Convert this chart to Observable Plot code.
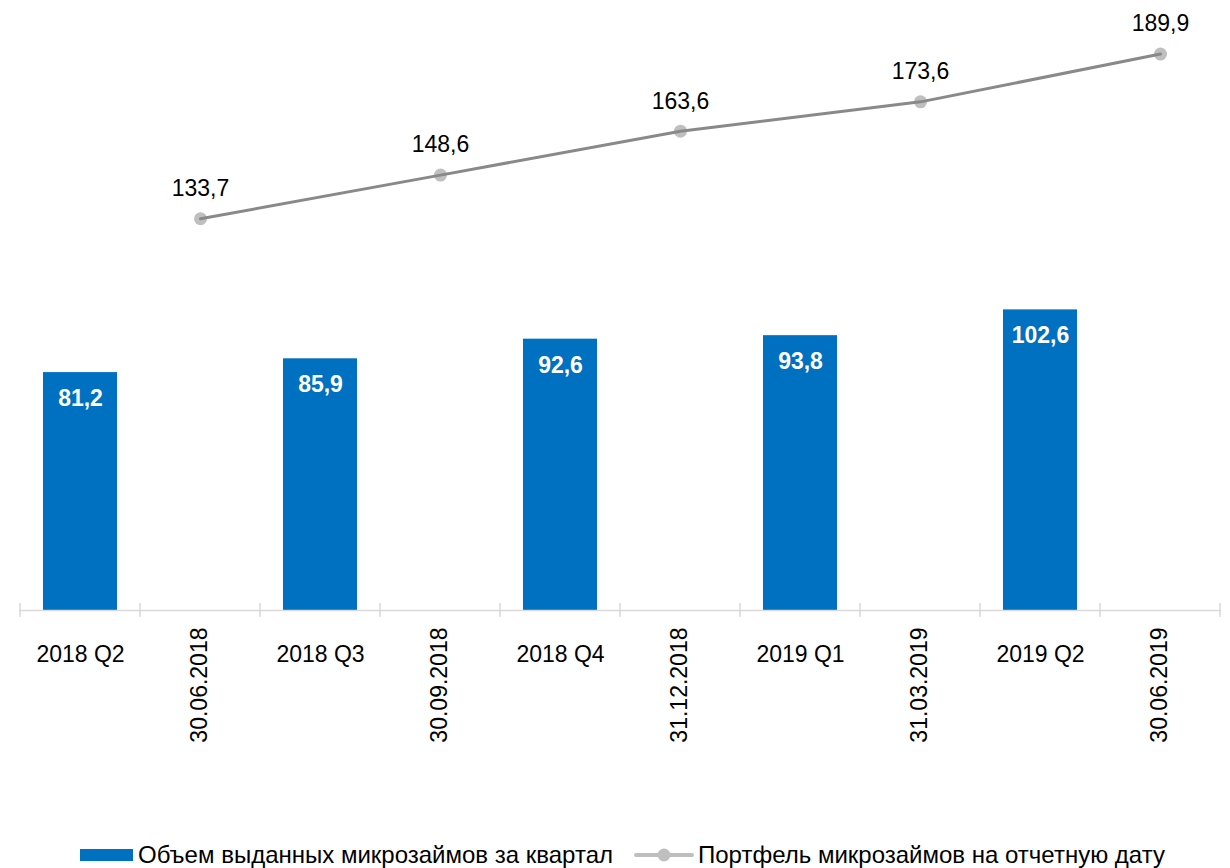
<!DOCTYPE html>
<html>
<head>
<meta charset="utf-8">
<script src="https://cdn.jsdelivr.net/npm/d3@7"></script>
<script src="https://cdn.jsdelivr.net/npm/@observablehq/plot@0.6"></script>
<style>
  html, body { margin: 0; background: #fff; font-family: "Liberation Sans", Arial, sans-serif; }
  #chart svg { display: block; }
  #legend { display: flex; align-items: center; height: 26px; line-height: 26px; margin-top: 17px; padding-left: 80px; font-size: 24px; color: #000; white-space: nowrap; }
  .sw-bar { width: 53px; height: 12px; background: #0070c0; margin-right: 5px; }
  .item2 { margin-left: 21px; display: flex; align-items: center; }
</style>
</head>
<body>
<div id="chart"></div>
<div id="legend">
  <div class="sw-bar"></div><span>Объем выданных микрозаймов за квартал</span>
  <div class="item2">
    <svg width="60" height="16" style="margin-right:4px"><line x1="2" y1="8" x2="58" y2="8" stroke="#bfbfbf" stroke-width="4" stroke-linecap="round"/><circle cx="30" cy="8" r="6.5" fill="#bfbfbf"/></svg>
    <span>Портфель микрозаймов на отчетную дату</span>
  </div>
</div>
<script>
// Categories on the x axis (quarters interleaved with reporting dates)
const categories = ["2018 Q2", "30.06.2018", "2018 Q3", "30.09.2018", "2018 Q4", "31.12.2018", "2019 Q1", "31.03.2019", "2019 Q2", "30.06.2019"];
// Bars: issued microloans per quarter
const quarters = ["2018 Q2", "2018 Q3", "2018 Q4", "2019 Q1", "2019 Q2"];
const issued = [81.2, 85.9, 92.6, 93.8, 102.6];
// Line: portfolio at reporting date
const dates = ["30.06.2018", "30.09.2018", "31.12.2018", "31.03.2019", "30.06.2019"];
const portfolio = [133.7, 148.6, 163.6, 173.6, 189.9];

const fmt = v => v.toFixed(1).replace(".", ",");
const bars = quarters.map((q, i) => ({cat: q, value: issued[i]}));
const pts = dates.map((d, i) => ({cat: d, value: portfolio[i]}));

const font = "'Liberation Sans', Arial, sans-serif";
const chart = Plot.plot({
  width: 1230,
  height: 825,
  marginLeft: 19,
  marginRight: 9,
  marginTop: 24,
  marginBottom: 215,
  style: {fontFamily: font, background: "#fff"},
  x: {domain: categories, padding: 0, axis: null},
  y: {domain: [0, 200], axis: null},
  marks: [
    Plot.barY(bars, {x: "cat", y: "value", fill: "#0070c0", insetLeft: 23, insetRight: 23}),
    Plot.text(bars, {x: "cat", y: "value", text: d => fmt(d.value), fill: "#fff", fontWeight: "bold", fontSize: 23, dy: 26}),
    Plot.ruleY([0], {stroke: "#d9d9d9", strokeWidth: 1.5}),
    Plot.dot(pts, {x: "cat", y: "value", r: 6.5, fill: "#bfbfbf"}),
    Plot.line(pts, {x: "cat", y: "value", stroke: "#898989", strokeWidth: 3}),
    Plot.text(pts, {x: "cat", y: "value", text: d => fmt(d.value), fill: "#000", fontSize: 23, dy: -30}),
    Plot.text(quarters, {x: d => d, text: d => d, frameAnchor: "bottom", dy: 51, fontSize: 23, fill: "#000"}),
    Plot.text(dates, {x: d => d, text: d => d, frameAnchor: "bottom", rotate: -90, textAnchor: "end", dx: 6, dy: 17, fontSize: 23, fill: "#000"})
  ]
});

// Tick marks at category boundaries, from the Plot scales
const xs = chart.scale("x"), ys = chart.scale("y");
const y0 = ys.apply(0);
const g = d3.select(chart).append("g").attr("stroke", "#d9d9d9").attr("stroke-width", 1.5);
categories.concat([null]).forEach((c, i) => {
  const px = c !== null ? xs.apply(c) : xs.apply(categories[categories.length - 1]) + xs.step;
  g.append("line").attr("x1", px).attr("x2", px).attr("y1", y0 - 7).attr("y2", y0 + 7);
});
document.getElementById("chart").appendChild(chart);
</script>
</body>
</html>
